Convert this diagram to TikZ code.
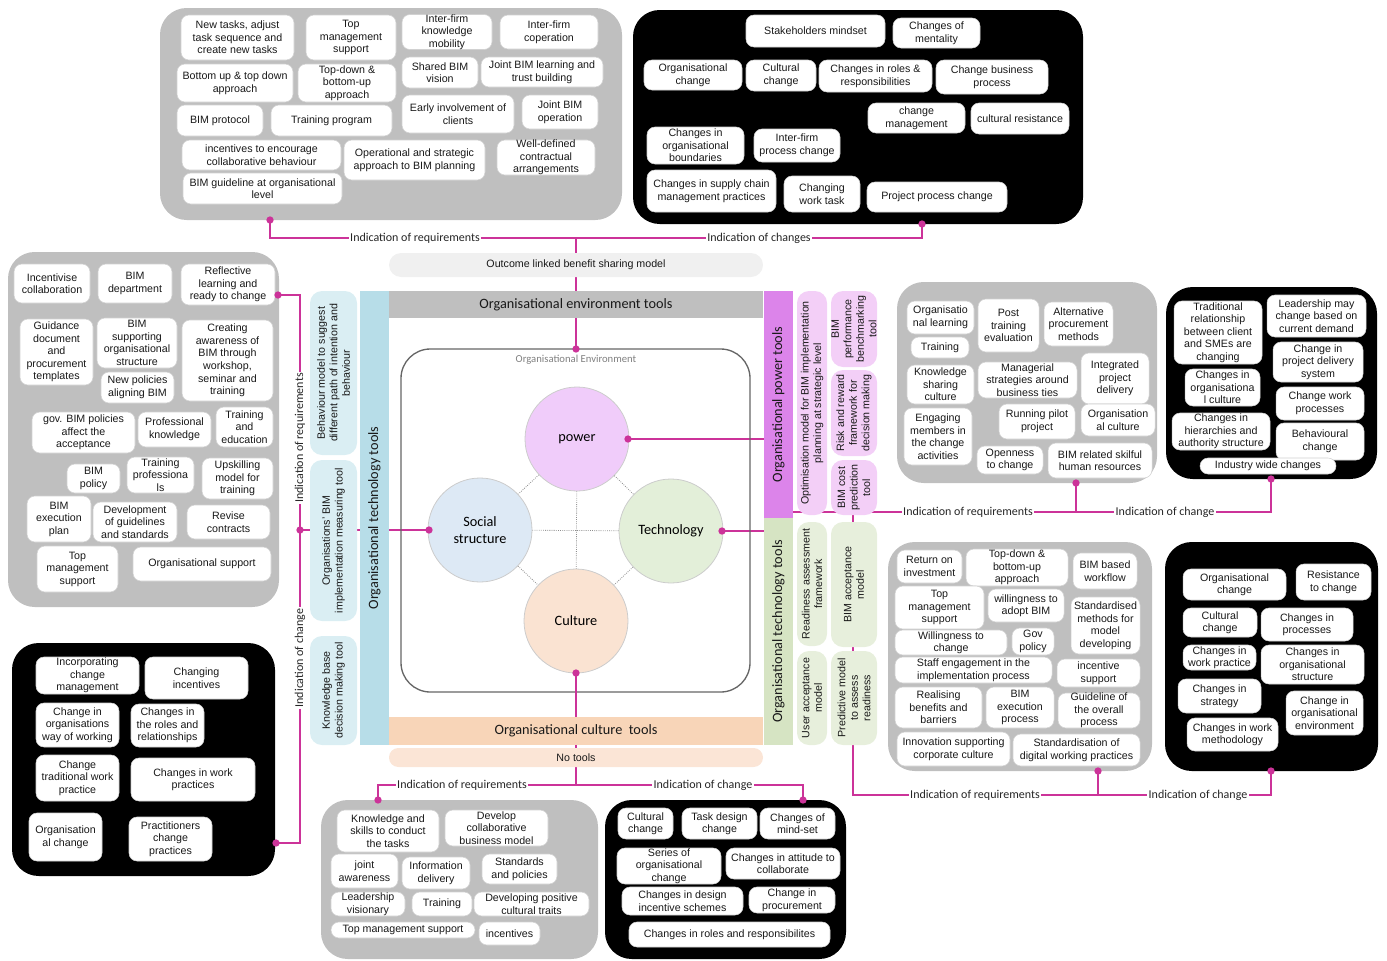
\documentclass[tikz,border=0pt]{standalone}
\usepackage{fontspec}
\setmainfont{Liberation Sans}
\newfontfamily\calfont{Carlito}
\definecolor{pgray}{HTML}{BFBFBF}
\definecolor{mag}{HTML}{CC3399}
\definecolor{barblue}{HTML}{B7DDE8}
\definecolor{barpink}{HTML}{DC84EA}
\definecolor{bargreen}{HTML}{D6E4C3}
\definecolor{barpeach}{HTML}{F8D5B8}
\definecolor{ltblue}{HTML}{DAEEF3}
\definecolor{ltpink}{HTML}{F3CFF7}
\definecolor{ltgreen}{HTML}{E7EFDC}
\definecolor{ltpeach}{HTML}{FBE5D6}
\definecolor{outgray}{HTML}{F0F0F0}
\definecolor{cpower}{HTML}{F0CCFA}
\definecolor{csocial}{HTML}{DDE9F5}
\definecolor{ctech}{HTML}{E3EFD9}
\definecolor{cculture}{HTML}{FAE3D2}
\tikzset{
 wbox/.style={draw=black!18, line width=0.4pt, fill=white, rounded corners=6pt, inner sep=0pt, outer sep=0pt, align=center, text=black!90, font=\fontsize{8}{9.4}\selectfont},
 sbox/.style={draw=none, rounded corners=9pt},
 bar/.style={draw=none, sharp corners, font=\calfont\fontsize{10.7}{12}\selectfont},
 pnl/.style={draw=none, rounded corners=20pt, inner sep=0pt, outer sep=0pt},
 conn/.style={draw=mag, line width=1.2pt},
 lab/.style={fill=white, inner sep=1.2pt, font=\calfont\fontsize{9}{10}\selectfont, text=black!85},
 dotm/.style={circle, fill=mag, inner sep=0pt, minimum size=5.5pt},
 circ/.style={circle, draw=black!20, line width=0.6pt, minimum size=78pt, inner sep=0pt, align=center, font=\calfont\fontsize{10.7}{13}\selectfont},
 link/.style={draw=black!45, densely dotted, line width=0.6pt},
}
\newcommand\bx[7][]{\node[wbox,#1,minimum width={(#5-#3)*0.75pt},minimum height={(#6-#4)*0.75pt}] (#2) at ({(#3+#5)/2},{(#4+#6)/2}) {#7};}
\newcommand\vbx[7][]{\node[wbox,rotate=90,#1,minimum width={(#6-#4)*0.75pt},minimum height={(#5-#3)*0.75pt}] (#2) at ({(#3+#5)/2},{(#4+#6)/2}) {#7};}
\newcommand\pn[6][]{\node[pnl,#1,minimum width={(#5-#3)*0.75pt},minimum height={(#6-#4)*0.75pt}] (#2) at ({(#3+#5)/2},{(#4+#6)/2}) {};}
\begin{document}
\begin{tikzpicture}[x=0.75pt,y=-0.75pt]
\useasboundingbox (0,0) rectangle (1387,960);
\clip (0,0) rectangle (1387,960);
% ---------- connector anchor points ----------
\coordinate (tA) at (270,220);
\coordinate (tB) at (922,224);
\coordinate (tJ1) at (270,238);
\coordinate (tJ2) at (922,238);
\coordinate (tM) at (576,238);
\coordinate (envT) at (576,349);
\coordinate (culB) at (576,673);
\coordinate (bM) at (576,785);
\coordinate (bA) at (378,800);
\coordinate (bB) at (803,800);
\coordinate (lA) at (278,295);
\coordinate (lB) at (276,843);
\coordinate (lM) at (300,530);
\coordinate (rA) at (1076,483);
\coordinate (rB) at (1271,479);
\coordinate (rS) at (793,512);
\coordinate (rC) at (1098,771);
\coordinate (rD) at (1271,771);
\coordinate (rV) at (853,512);
% ---------- connectors (under everything) ----------
\draw[conn] (tA) -- (tJ1) -- (tJ2) -- (tB);
\draw[conn] (tM) -- (envT);
\draw[conn] (culB) -- (bM);
\draw[conn] (bA) -- (bA |- bM) -- (bB |- bM) -- (bB);
\draw[conn] (lA) -- (lA -| lM) -- (lB -| lM) -- (lB);
\draw[conn] (lM) -- (429,530);
\draw[conn] (628,439) -- (764,439);
\draw[conn] (722,531) -- (764,531);
\draw[conn] (rS) -- (rS -| rB) -- (rB);
\draw[conn] (rA) -- (rA |- rS);
\draw[conn] (rV) -- (rV |- 0,795) -- (rD |- 0,795) -- (rD);
\draw[conn] (rC) -- (rC |- 0,795);
% ---------- panels ----------
\pn[fill=pgray]{P1}{160}{8}{622}{220}
\pn[fill=black]{P2}{633}{10}{1083}{224}
\pn[fill=pgray]{P3}{8}{252}{279}{607}
\pn[fill=black]{P4}{12}{643}{275}{876}
\pn[fill=pgray]{P5}{897}{282}{1157}{483}
\pn[fill=black]{P6}{1166}{287}{1377}{479}
\pn[fill=pgray]{P7}{888}{542}{1152}{771}
\pn[fill=black]{P8}{1165}{542}{1378}{771}
\pn[fill=pgray]{P9}{321}{800}{598}{959}
\pn[fill=black]{P10}{605}{800}{846}{959}
% ---------- centre ----------
\bx[draw=none,fill=outgray,rounded corners=9pt]{outc}{389}{253}{763}{277}{Outcome linked benefit sharing model}
\bx[bar,fill=pgray]{envbar}{389}{291}{763}{318}{Organisational environment tools}
\bx[bar,fill=barpeach]{culbar}{389}{717}{763}{745}{Organisational culture\ \ tools}
\bx[draw=none,fill=ltpeach,rounded corners=7pt]{notools}{389}{748}{763}{767}{No tools}
\vbx[bar,fill=barblue]{tecbarL}{360}{291}{389}{745}{Organisational technology tools}
\vbx[bar,fill=barpink]{powbar}{764}{291}{793}{518}{Organisational power tools}
\vbx[bar,fill=bargreen]{tecbarR}{764}{518}{793}{745}{Organisational technology tools}
\draw[conn] (tM) -- (576,253);
\node[draw=black!60, line width=1pt, rounded corners=22pt, minimum width={349*0.75pt}, minimum height={343*0.75pt}, inner sep=0pt] (envrect) at (575.5,520.5) {};
\node[font=\calfont\fontsize{8}{9}\selectfont, text=black!50] (envlab) at (576,360) {Organisational Environment};
\draw[conn] (576,318) -- (envT);
\draw[conn] (culB) -- (576,717);
\node[circ,fill=cpower] (pw) at (577,439) {power};
\node[circ,fill=csocial] (ss) at (480,530) {Social\\structure};
\node[circ,fill=ctech] (tc) at (671,531) {Technology};
\node[circ,fill=cculture] (cu) at (576,621) {Culture};
\draw[link] (pw) -- (ss);
\draw[link] (pw) -- (tc);
\draw[link] (ss) -- (cu);
\draw[link] (tc) -- (cu);
\draw[link] (pw) -- (cu);
\draw[link] (ss) -- (tc);
% side tool boxes
\vbx[sbox,fill=ltblue]{s1}{310}{291}{357}{455}{Behaviour model to suggest\\different path of intention and\\behaviour}
\vbx[sbox,fill=ltblue]{s2}{310}{460}{357}{621}{Organisations' BIM\\implementation measuring tool}
\vbx[sbox,fill=ltblue]{s3}{310}{636}{357}{745}{Knowledge base\\decision making tool}
\vbx[sbox,fill=ltpink]{s4}{797}{291}{827}{515}{Optimisation model for BIM implementation\\planning at strategic level}
\vbx[sbox,fill=ltpink]{s5}{831}{291}{877}{367}{BIM\\performance\\benchmarking\\tool}
\vbx[sbox,fill=ltpink]{s6}{831}{370}{877}{456}{Risk and reward\\framework for\\decision making}
\vbx[sbox,fill=ltpink]{s7}{831}{460}{877}{515}{BIM cost\\prediction\\tool}
\vbx[sbox,fill=ltgreen]{s8}{797}{522}{827}{646}{Readiness assessment\\framework}
\vbx[sbox,fill=ltgreen]{s9}{797}{651}{827}{745}{User acceptance\\model}
\vbx[sbox,fill=ltgreen]{s10}{831}{522}{877}{647}{BIM acceptance\\model}
\vbx[sbox,fill=ltgreen]{s11}{831}{651}{877}{745}{Predictive model\\to assess\\readiness}
% ---------- top-left gray ----------
\bx{a1}{181}{15}{294}{60}{New tasks, adjust\\task sequence and\\create new tasks}
\bx{a2}{306}{15}{396}{60}{Top\\management\\support}
\bx{a3}{402}{15}{492}{49}{Inter-firm\\knowledge\\mobility}
\bx{a4}{500}{15}{598}{49}{Inter-firm\\coperation}
\bx{a5}{177}{64}{293}{102}{Bottom up \& top down\\approach}
\bx{a6}{298}{64}{396}{102}{Top-down \&\\bottom-up\\approach}
\bx{a7}{402}{57}{478}{88}{Shared BIM\\vision}
\bx{a8}{481}{57}{603}{87}{Joint BIM learning and\\trust building}
\bx{a9}{177}{105}{263}{136}{BIM protocol}
\bx{a10}{271}{105}{392}{136}{Training program}
\bx{a11}{402}{95}{514}{133}{Early involvement of\\clients}
\bx{a12}{522}{95}{598}{129}{Joint BIM\\operation}
\bx{a13}{182}{140}{341}{170}{incentives to encourage\\collaborative behaviour}
\bx{a14}{344}{140}{485}{180}{Operational and strategic\\approach to BIM planning}
\bx{a15}{497}{140}{595}{175}{Well-defined\\contractual\\arrangements}
\bx{a16}{183}{173}{342}{204}{BIM guideline at organisational\\level}
% ---------- top-right black ----------
\bx{b1}{746}{15}{885}{47}{Stakeholders mindset}
\bx{b2}{893}{18}{980}{48}{Changes of\\mentality}
\bx{b3}{644}{60}{742}{90}{Organisational\\change}
\bx{b4}{746}{60}{816}{91}{Cultural\\change}
\bx{b5}{819}{60}{932}{92}{Changes in roles \&\\responsibilities}
\bx{b6}{936}{60}{1048}{94}{Change business\\process}
\bx{b7}{868}{103}{965}{133}{change\\management}
\bx{b8}{971}{103}{1069}{134}{cultural resistance}
\bx{b9}{647}{127}{744}{164}{Changes in\\organisational\\boundaries}
\bx{b10}{754}{129}{840}{162}{Inter-firm\\process change}
\bx{b11}{647}{170}{776}{212}{Changes in supply chain\\management practices}
\bx{b12}{784}{176}{860}{212}{Changing\\work task}
\bx{b13}{867}{182}{1007}{212}{Project process change}
% ---------- left gray ----------
\bx{c1}{14}{264}{90}{303}{Incentivise\\collaboration}
\bx{c2}{98}{264}{172}{303}{BIM\\department}
\bx{c3}{181}{264}{275}{305}{Reflective\\learning and\\ready to change}
\bx{c4}{20}{319}{93}{385}{Guidance\\document\\and\\procurement\\templates}
\bx{c5}{97}{318}{177}{368}{BIM\\supporting\\organisational\\structure}
\bx{c6}{101}{372}{174}{403}{New policies\\aligning BIM}
\bx{c7}{182}{320}{273}{401}{Creating\\awareness of\\BIM through\\workshop,\\seminar and\\training}
\bx{c8}{32}{412}{135}{453}{gov. BIM policies\\affect the\\acceptance}
\bx{c9}{138}{412}{211}{447}{Professional\\knowledge}
\bx{c10}{216}{407}{273}{447}{Training\\and\\education}
\bx{c11}{67}{464}{120}{493}{BIM\\policy}
\bx{c12}{127}{457}{194}{493}{Training\\professiona\\ls}
\bx{c13}{202}{458}{273}{499}{Upskilling\\model for\\training}
\bx{c14}{27}{496}{91}{542}{BIM\\execution\\plan}
\bx{c15}{93}{502}{177}{542}{Development\\of guidelines\\and standards}
\bx{c16}{187}{505}{270}{539}{Revise\\contracts}
\bx{c17}{37}{546}{118}{592}{Top\\management\\support}
\bx{c18}{133}{547}{271}{581}{Organisational support}
% ---------- bottom-left black ----------
\bx{d1}{36}{657}{139}{694}{Incorporating\\change\\management}
\bx{d2}{145}{657}{248}{699}{Changing\\incentives}
\bx{d3}{36}{703}{119}{747}{Change in\\organisations\\way of working}
\bx{d4}{131}{704}{204}{747}{Changes in\\the roles and\\relationships}
\bx{d5}{36}{755}{119}{801}{Change\\traditional work\\practice}
\bx{d6}{131}{758}{255}{801}{Changes in work\\practices}
\bx{d7}{29}{813}{102}{861}{Organisation\\al change}
\bx{d8}{129}{817}{212}{861}{Practitioners\\change\\practices}
% ---------- right gray top ----------
\bx{e1}{907}{301}{974}{334}{Organisatio\\nal learning}
\bx{e2}{978}{299}{1039}{352}{Post\\training\\evaluation}
\bx{e3}{1044}{302}{1113}{346}{Alternative\\procurement\\methods}
\bx{e4}{911}{337}{969}{358}{Training}
\bx{e5}{907}{365}{974}{404}{Knowledge\\sharing\\culture}
\bx{e6}{978}{362}{1077}{398}{Managerial\\strategies around\\business ties}
\bx{e7}{1081}{353}{1149}{404}{Integrated\\project\\delivery}
\bx{e8}{904}{408}{972}{465}{Engaging\\members in\\the change\\activities}
\bx{e9}{999}{404}{1075}{439}{Running pilot\\project}
\bx{e10}{1081}{404}{1155}{436}{Organisation\\al culture}
\bx{e11}{977}{446}{1043}{474}{Openness\\to change}
\bx{e12}{1048}{443}{1152}{478}{BIM related skilful\\human resources}
% ---------- right black top ----------
\bx{f1}{1174}{301}{1262}{364}{Traditional\\relationship\\between client\\and SMEs are\\changing}
\bx{f2}{1267}{295}{1366}{337}{Leadership may\\change based on\\current demand}
\bx{f3}{1185}{369}{1260}{406}{Changes in\\organisationa\\l culture}
\bx{f4}{1273}{342}{1363}{382}{Change in\\project delivery\\system}
\bx{f5}{1276}{387}{1364}{420}{Change work\\processes}
\bx{f6}{1172}{413}{1270}{450}{Changes in\\hierarchies and\\authority structure}
\bx{f7}{1276}{423}{1364}{460}{Behavioural\\change}
\bx{f8}{1200}{458}{1336}{474}{Industry wide changes}
% ---------- right gray bottom ----------
\bx{g1}{897}{550}{962}{583}{Return on\\investment}
\bx{g2}{966}{549}{1068}{586}{Top-down \&\\bottom-up\\approach}
\bx{g3}{1073}{553}{1137}{589}{BIM based\\workflow}
\bx{g4}{895}{586}{984}{629}{Top\\management\\support}
\bx{g5}{988}{589}{1064}{622}{willingness to\\adopt BIM}
\bx{g6}{1071}{597}{1140}{654}{Standardised\\methods for\\model\\developing}
\bx{g7}{895}{630}{1007}{655}{Willingness to\\change}
\bx{g8}{1012}{628}{1054}{655}{Gov\\policy}
\bx{g9}{895}{657}{1052}{683}{Staff engagement in the\\implementation process}
\bx{g10}{1057}{659}{1140}{687}{incentive\\support}
\bx{g11}{895}{687}{982}{728}{Realising\\benefits and\\barriers}
\bx{g12}{986}{687}{1054}{728}{BIM\\execution\\process}
\bx{g13}{1058}{693}{1140}{728}{Guideline of\\the overall\\process}
\bx{g14}{897}{732}{1010}{766}{Innovation supporting\\corporate culture}
\bx{g15}{1013}{734}{1140}{766}{Standardisation of\\digital working practices}
% ---------- right black bottom ----------
\bx{h1}{1183}{569}{1286}{600}{Organisational\\change}
\bx{h2}{1296}{564}{1371}{600}{Resistance\\to change}
\bx{h3}{1183}{608}{1257}{637}{Cultural\\change}
\bx{h4}{1261}{608}{1353}{641}{Changes in\\processes}
\bx{h5}{1183}{645}{1256}{670}{Changes in\\work practice}
\bx{h6}{1261}{645}{1364}{684}{Changes in\\organisational\\structure}
\bx{h7}{1178}{679}{1261}{713}{Changes in\\strategy}
\bx{h8}{1286}{691}{1363}{735}{Change in\\organisational\\environment}
\bx{h9}{1187}{718}{1278}{751}{Changes in work\\methodology}
% ---------- bottom gray ----------
\bx{i1}{337}{810}{439}{852}{Knowledge and\\skills to conduct\\the tasks}
\bx{i2}{445}{810}{548}{846}{Develop\\collaborative\\business model}
\bx{i3}{331}{854}{398}{888}{joint\\awareness}
\bx{i4}{402}{857}{470}{889}{Information\\delivery}
\bx{i5}{482}{854}{557}{884}{Standards\\and policies}
\bx{i6}{331}{892}{405}{916}{Leadership\\visionary}
\bx{i7}{412}{892}{472}{916}{Training}
\bx{i8}{474}{892}{589}{916}{Developing positive\\cultural traits}
\bx{i9}{331}{922}{475}{938}{Top management support}
\bx{i10}{479}{922}{540}{945}{incentives}
% ---------- bottom black ----------
\bx{j1}{618}{808}{673}{839}{Cultural\\change}
\bx{j2}{682}{808}{757}{839}{Task design\\change}
\bx{j3}{760}{808}{835}{839}{Changes of\\mind-set}
\bx{j4}{617}{848}{721}{884}{Series of\\organisational\\change}
\bx{j5}{726}{848}{840}{879}{Changes in attitude to\\collaborate}
\bx{j6}{622}{887}{743}{915}{Changes in design\\incentive schemes}
\bx{j7}{749}{887}{835}{913}{Change in\\procurement}
\bx{j8}{629}{922}{830}{947}{Changes in roles and responsibilites}
% ---------- connector labels ----------
\node[lab] (L1) at (415,238) {Indication of requirements};
\node[lab] (L2) at (759,238) {Indication of changes};
\node[lab,rotate=90] (L3) at (300,438) {Indication of requirements};
\node[lab,rotate=90] (L4) at (300,658) {Indication of change};
\node[lab] (L5) at (462,785) {Indication of requirements};
\node[lab] (L6) at (703,785) {Indication of change};
\node[lab] (L7) at (968,512) {Indication of requirements};
\node[lab] (L8) at (1165,512) {Indication of change};
\node[lab] (L9) at (975,795) {Indication of requirements};
\node[lab] (L10) at (1198,795) {Indication of change};
% ---------- dots ----------
\foreach \p in {tA,tB,envT,culB,bA,bB,lA,lB,lM,rA,rB,rC,rD}{\node[dotm] at (\p) {};}
\node[dotm] (dpw) at (628,439) {};
\node[dotm] (dtc) at (722,531) {};
\node[dotm] (dss) at (429,530) {};
\end{tikzpicture}
\end{document}
